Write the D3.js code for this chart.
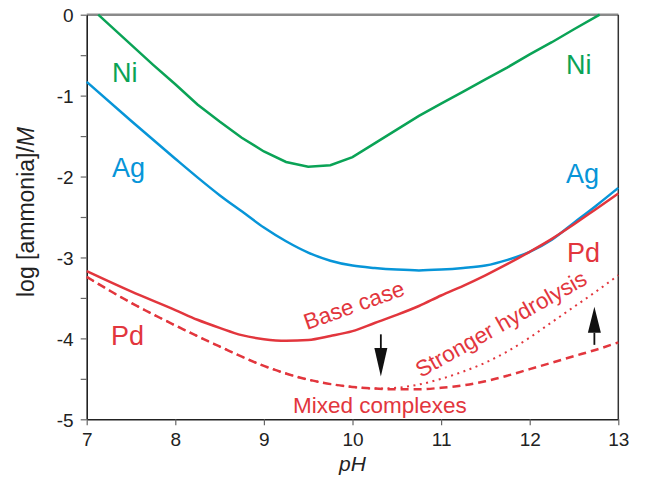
<!DOCTYPE html>
<html><head><meta charset="utf-8">
<script src="https://cdn.jsdelivr.net/npm/d3@7"></script>
<style>body{margin:0;background:#fff}svg{display:block}text{font-family:"Liberation Sans",Arial,Helvetica,sans-serif}</style>
</head><body>
<svg id="c" width="647" height="483"></svg>
<script>
const xTicks = [7, 8, 9, 10, 11, 12, 13];
const yTicks = [0, -1, -2, -3, -4, -5];
const yMinorTicks = [-0.5, -1.5, -2.5, -3.5, -4.5];

const niPH = [7.13, 7.25, 7.5, 7.75, 8.0, 8.25, 8.5, 8.75, 9.0, 9.25, 9.5, 9.75, 10.0, 10.25, 10.5, 10.75, 11.0, 11.25, 11.5, 11.75, 12.0, 12.25, 12.5, 12.79];
const niVal = [0, -0.12, -0.37, -0.62, -0.86, -1.11, -1.32, -1.52, -1.69, -1.82, -1.88, -1.86, -1.76, -1.59, -1.42, -1.25, -1.10, -0.95, -0.80, -0.65, -0.49, -0.34, -0.18, 0];

const agPH = [7, 7.5, 8, 8.25, 8.5, 8.75, 9, 9.25, 9.5, 9.75, 10, 10.25, 10.5, 10.75, 11, 11.25, 11.5, 11.75, 12, 12.25, 12.5, 12.75, 13];
const agVal = [-0.83, -1.31, -1.78, -2.01, -2.23, -2.43, -2.63, -2.80, -2.94, -3.04, -3.10, -3.13, -3.15, -3.16, -3.15, -3.13, -3.10, -3.03, -2.93, -2.78, -2.57, -2.36, -2.14];

const pdPH = [7, 7.5, 8, 8.25, 8.5, 8.75, 9, 9.25, 9.5, 9.75, 10, 10.25, 10.5, 10.75, 11, 11.25, 11.5, 11.75, 12, 12.25, 12.5, 12.75, 13];
const pdBase = [-3.17, -3.42, -3.65, -3.77, -3.87, -3.96, -4.01, -4.03, -4.02, -3.97, -3.91, -3.81, -3.71, -3.60, -3.47, -3.35, -3.22, -3.08, -2.93, -2.77, -2.59, -2.40, -2.21];

const hydPH = [7, 7.5, 8, 8.5, 9, 9.5, 10, 10.25, 10.5, 10.75, 11, 11.25, 11.5, 11.75, 12, 12.25, 12.5, 12.75, 13];
const hydVal = [-3.24, -3.56, -3.84, -4.10, -4.34, -4.51, -4.60, -4.62, -4.61, -4.57, -4.50, -4.41, -4.30, -4.16, -3.99, -3.80, -3.61, -3.42, -3.22];

const mixPH = [7, 7.5, 8, 8.5, 9, 9.5, 10, 10.25, 10.5, 10.75, 11, 11.25, 11.5, 11.75, 12, 12.25, 12.5, 12.75, 13];
const mixVal = [-3.24, -3.56, -3.84, -4.10, -4.34, -4.51, -4.60, -4.62, -4.63, -4.63, -4.61, -4.58, -4.53, -4.46, -4.38, -4.30, -4.22, -4.14, -4.05];

const GREEN = "#0aa356", BLUE = "#0795d8", RED = "#e2363d";

const svg = d3.select("#c");
const x = d3.scaleLinear([7, 13], [86.7, 618.3]);
const y = d3.scaleLinear([-5, 0], [419.3, 14.7]);

// frame
svg.append("line").attr("x1", x(7)).attr("x2", x(13)).attr("y1", y(0)).attr("y2", y(0))
  .attr("stroke", "#8a8a8a").attr("stroke-width", 2.5);
svg.append("line").attr("x1", x(13)).attr("x2", x(13)).attr("y1", y(0)).attr("y2", y(-5))
  .attr("stroke", "#333").attr("stroke-width", 1.5);

// axes
const ya = svg.append("g").attr("transform", `translate(${x(7)},0)`)
  .call(d3.axisLeft(y).tickValues(yTicks.concat(yMinorTicks)).tickSize(6).tickSizeOuter(0)
    .tickFormat(d => yTicks.includes(d) ? (d === 0 ? "0" : "-" + Math.abs(d)) : ""));
ya.select(".domain").attr("stroke", "#222").attr("stroke-width", 1.6);
ya.selectAll(".tick line").attr("stroke", "#666").attr("stroke-width", 1.2);
ya.selectAll(".tick text").attr("font-size", 19).attr("fill", "#222").attr("x", -13)
  .attr("dy", "0.36em");

const xa = svg.append("g").attr("transform", `translate(0,${y(-5)})`)
  .call(d3.axisBottom(x).tickValues(xTicks).tickSize(6).tickSizeOuter(0).tickFormat(d3.format("d")));
xa.select(".domain").attr("stroke", "#222").attr("stroke-width", 1.6);
xa.selectAll(".tick line").attr("stroke", "#666").attr("stroke-width", 1.2);
xa.selectAll(".tick text").attr("font-size", 19).attr("fill", "#222").attr("y", 13).attr("dy", "0.71em");

// axis titles
svg.append("text").attr("transform", `translate(34,212) rotate(-90)`)
  .attr("text-anchor", "middle").attr("font-size", 23).attr("fill", "#222")
  .html('log [ammonia]/<tspan font-style="italic">M</tspan>');
svg.append("text").attr("x", x(10)).attr("y", 471).attr("text-anchor", "middle")
  .attr("font-size", 21).attr("font-style", "italic").attr("fill", "#222").text("pH");

// lines
const mk = (xs, ys) => xs.map((v, i) => [v, ys[i]]);
const lineLin = d3.line().x(d => x(d[0])).y(d => y(d[1]));
const lineSm = d3.line().x(d => x(d[0])).y(d => y(d[1])).curve(d3.curveMonotoneX);

svg.append("path").attr("d", lineLin(mk(niPH, niVal))).attr("fill", "none").attr("stroke", GREEN).attr("stroke-width", 2.5);
svg.append("path").attr("d", lineSm(mk(agPH, agVal))).attr("fill", "none").attr("stroke", BLUE).attr("stroke-width", 2.5);
svg.append("path").attr("d", lineSm(mk(pdPH, pdBase))).attr("fill", "none").attr("stroke", RED).attr("stroke-width", 2.5);
svg.append("path").attr("d", lineSm(mk(hydPH, hydVal))).attr("fill", "none").attr("stroke", RED)
  .attr("stroke-width", 2).attr("stroke-dasharray", "2,4.5");
svg.append("path").attr("d", lineSm(mk(mixPH, mixVal))).attr("fill", "none").attr("stroke", RED)
  .attr("stroke-width", 2.5).attr("stroke-dasharray", "8,5");

// element labels
const lab = (t, px, py, col) => svg.append("text").attr("x", px).attr("y", py).attr("font-size", 27).attr("fill", col).text(t);
lab("Ni", 112, 82, GREEN); lab("Ag", 112, 177, BLUE); lab("Pd", 111, 345, RED);
lab("Ni", 566, 74, GREEN); lab("Ag", 566, 183, BLUE); lab("Pd", 567, 262, RED);

// case labels
svg.append("text").attr("transform", "translate(307,330) rotate(-19.5)").attr("font-size", 22.5).attr("fill", RED).text("Base case");
svg.append("text").attr("transform", "translate(421,378) rotate(-29.5)").attr("font-size", 22.5).attr("fill", RED).text("Stronger hydrolysis");
svg.append("text").attr("x", 293).attr("y", 413).attr("font-size", 22.5).attr("fill", RED).text("Mixed complexes");

// arrows
function arrow(ph, yStart, yTip, yHead) {
  const cx = x(ph);
  svg.append("line").attr("x1", cx).attr("x2", cx).attr("y1", y(yStart)).attr("y2", y(yHead))
    .attr("stroke", "#111").attr("stroke-width", 1.8);
  svg.append("path").attr("d", `M${cx - 6.5},${y(yHead)}L${cx + 6.5},${y(yHead)}L${cx},${y(yTip)}Z`).attr("fill", "#111");
}
arrow(10.32, -3.95, -4.47, -4.12);
arrow(12.73, -4.08, -3.61, -3.93);
</script>
</body></html>
